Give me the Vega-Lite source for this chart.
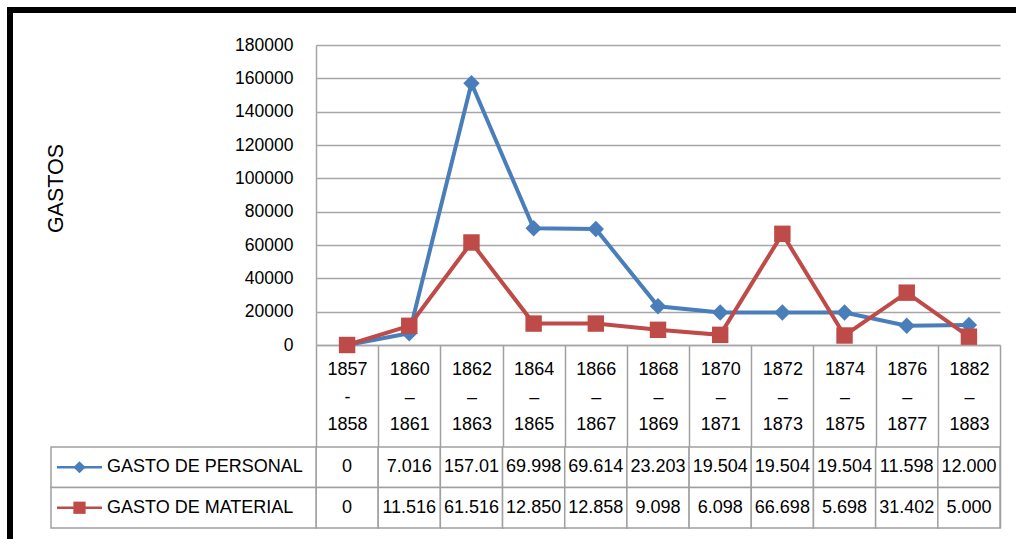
{
  "$schema": "https://vega.github.io/schema/vega-lite/v6.json",
  "width": 1016,
  "height": 539,
  "autosize": {"type": "none"},
  "padding": {"left": 10, "top": 10, "right": -10, "bottom": -10},
  "background": "white",
  "config": {
    "font": "Liberation Sans, Arial, sans-serif",
    "view": {"stroke": "black", "strokeWidth": 6}
  },
  "datasets": {
    "gastos": [
      {"periodo": "1857 - 1858", "serie": "GASTO DE PERSONAL", "valor": 0, "etiqueta": "0"},
      {"periodo": "1860 – 1861", "serie": "GASTO DE PERSONAL", "valor": 7016, "etiqueta": "7.016"},
      {"periodo": "1862 – 1863", "serie": "GASTO DE PERSONAL", "valor": 157010, "etiqueta": "157.01"},
      {"periodo": "1864 – 1865", "serie": "GASTO DE PERSONAL", "valor": 69998, "etiqueta": "69.998"},
      {"periodo": "1866 – 1867", "serie": "GASTO DE PERSONAL", "valor": 69614, "etiqueta": "69.614"},
      {"periodo": "1868 – 1869", "serie": "GASTO DE PERSONAL", "valor": 23203, "etiqueta": "23.203"},
      {"periodo": "1870 – 1871", "serie": "GASTO DE PERSONAL", "valor": 19504, "etiqueta": "19.504"},
      {"periodo": "1872 – 1873", "serie": "GASTO DE PERSONAL", "valor": 19504, "etiqueta": "19.504"},
      {"periodo": "1874 – 1875", "serie": "GASTO DE PERSONAL", "valor": 19504, "etiqueta": "19.504"},
      {"periodo": "1876 – 1877", "serie": "GASTO DE PERSONAL", "valor": 11598, "etiqueta": "11.598"},
      {"periodo": "1882 – 1883", "serie": "GASTO DE PERSONAL", "valor": 12000, "etiqueta": "12.000"},
      {"periodo": "1857 - 1858", "serie": "GASTO DE MATERIAL", "valor": 0, "etiqueta": "0"},
      {"periodo": "1860 – 1861", "serie": "GASTO DE MATERIAL", "valor": 11516, "etiqueta": "11.516"},
      {"periodo": "1862 – 1863", "serie": "GASTO DE MATERIAL", "valor": 61516, "etiqueta": "61.516"},
      {"periodo": "1864 – 1865", "serie": "GASTO DE MATERIAL", "valor": 12850, "etiqueta": "12.850"},
      {"periodo": "1866 – 1867", "serie": "GASTO DE MATERIAL", "valor": 12858, "etiqueta": "12.858"},
      {"periodo": "1868 – 1869", "serie": "GASTO DE MATERIAL", "valor": 9098, "etiqueta": "9.098"},
      {"periodo": "1870 – 1871", "serie": "GASTO DE MATERIAL", "valor": 6098, "etiqueta": "6.098"},
      {"periodo": "1872 – 1873", "serie": "GASTO DE MATERIAL", "valor": 66698, "etiqueta": "66.698"},
      {"periodo": "1874 – 1875", "serie": "GASTO DE MATERIAL", "valor": 5698, "etiqueta": "5.698"},
      {"periodo": "1876 – 1877", "serie": "GASTO DE MATERIAL", "valor": 31402, "etiqueta": "31.402"},
      {"periodo": "1882 – 1883", "serie": "GASTO DE MATERIAL", "valor": 5000, "etiqueta": "5.000"}
    ]
  },
  "data": {"name": "gastos"},
  "resolve": {"scale": {"x": "independent", "y": "independent"}},
  "layer": [
    {
      "encoding": {
        "x": {
          "field": "periodo", "type": "nominal", "sort": null,
          "scale": {"range": [306, 990], "paddingInner": 0, "paddingOuter": 0},
          "axis": {
            "orient": "bottom", "offset": -204, "title": null,
            "domainColor": "#a6a6a6", "domainWidth": 1.5,
            "tickBand": "extent", "tickSize": 183, "tickColor": "#a0a0a0", "tickWidth": 1.5,
            "labelAngle": 0, "labelFontSize": 18, "labelColor": "black",
            "labelExpr": "split(datum.label, ' ')", "labelLineHeight": 27.5,
            "labelBaseline": "middle", "labelPadding": -158.5, "grid": false
          }
        },
        "y": {
          "field": "valor", "type": "quantitative",
          "scale": {"domain": [0, 180000], "range": [335, 35], "nice": false},
          "axis": {
            "orient": "left", "offset": -306,
            "values": [0, 20000, 40000, 60000, 80000, 100000, 120000, 140000, 160000, 180000],
            "format": "d", "labelFontSize": 17.5, "labelColor": "black", "labelPadding": 23,
            "ticks": false, "domainColor": "#a6a6a6", "domainWidth": 1.5,
            "grid": true, "gridColor": "#a6a6a6", "gridWidth": 1.5,
            "title": "GASTOS",
            "titleFontSize": 21.5, "titleFontWeight": "normal", "titleColor": "black",
            "titleX": -260, "titleY": 178, "titleAngle": -90,
            "titleBaseline": "middle", "titleAlign": "center"
          }
        },
        "color": {
          "field": "serie", "type": "nominal",
          "scale": {"domain": ["GASTO DE PERSONAL", "GASTO DE MATERIAL"], "range": ["#4a7ebb", "#be4b48"]},
          "legend": null
        }
      },
      "layer": [
        {"mark": {"type": "line", "strokeWidth": 4}},
        {
          "mark": {"type": "point", "filled": true, "opacity": 1, "size": 270},
          "encoding": {
            "shape": {
              "field": "serie", "type": "nominal",
              "scale": {"domain": ["GASTO DE PERSONAL", "GASTO DE MATERIAL"], "range": ["diamond", "square"]},
              "legend": null
            }
          }
        }
      ]
    },
    {
      "encoding": {
        "x": {
          "field": "periodo", "type": "nominal", "sort": null,
          "scale": {"range": [306, 990], "paddingInner": 0, "paddingOuter": 0},
          "axis": null
        },
        "y": {
          "field": "serie", "type": "nominal",
          "scale": {"domain": ["GASTO DE PERSONAL", "GASTO DE MATERIAL"], "range": [437, 518], "paddingInner": 0, "paddingOuter": 0},
          "axis": null
        }
      },
      "layer": [
        {"mark": {"type": "rect", "fill": "white", "stroke": "#a0a0a0", "strokeWidth": 1.5}},
        {"mark": {"type": "text", "fontSize": 18, "color": "black"}, "encoding": {"text": {"field": "etiqueta"}}}
      ]
    },
    {
      "transform": [{"filter": "datum.periodo === '1857 - 1858'"}],
      "encoding": {
        "x": {
          "datum": "c", "type": "nominal",
          "scale": {"domain": ["c"], "range": [41, 306], "paddingInner": 0, "paddingOuter": 0},
          "axis": null
        },
        "y": {
          "field": "serie", "type": "nominal",
          "scale": {"domain": ["GASTO DE PERSONAL", "GASTO DE MATERIAL"], "range": [437, 518], "paddingInner": 0, "paddingOuter": 0},
          "axis": null
        }
      },
      "layer": [
        {"mark": {"type": "rect", "fill": "white", "stroke": "#a0a0a0", "strokeWidth": 1.5}},
        {
          "mark": {"type": "point", "shape": "M-1,0H1", "size": 2025, "strokeWidth": 2.5, "filled": false, "opacity": 1},
          "encoding": {
            "x": {"datum": "c", "type": "nominal", "bandPosition": 0.1075},
            "color": {"field": "serie", "type": "nominal", "legend": null}
          }
        },
        {
          "mark": {"type": "point", "filled": true, "opacity": 1, "size": 150},
          "encoding": {
            "x": {"datum": "c", "type": "nominal", "bandPosition": 0.1075},
            "color": {"field": "serie", "type": "nominal", "legend": null},
            "shape": {"field": "serie", "type": "nominal", "legend": null}
          }
        },
        {
          "mark": {"type": "text", "align": "left", "fontSize": 18, "color": "black"},
          "encoding": {
            "x": {"datum": "c", "type": "nominal", "bandPosition": 0.2113},
            "text": {"field": "serie"}
          }
        }
      ]
    }
  ]
}
